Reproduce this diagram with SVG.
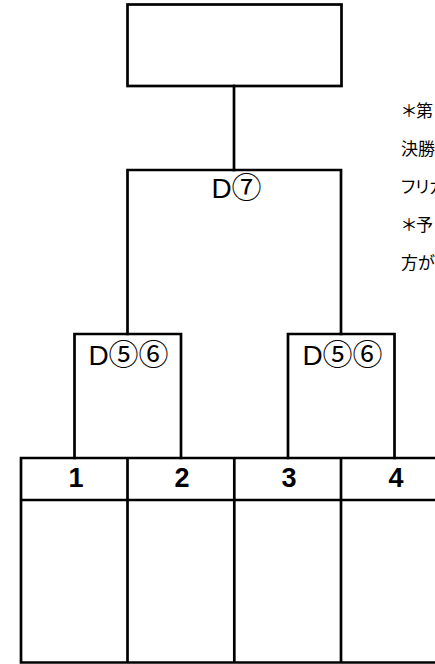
<svg xmlns="http://www.w3.org/2000/svg" width="435" height="664" viewBox="0 0 435 664">
<style>
.ln{fill:none;stroke:#000;stroke-width:2.7;stroke-linecap:square}
.lbl{font-family:"Liberation Sans","Noto Sans CJK JP",sans-serif;font-size:28px;fill:#000;text-anchor:middle}
.cd{font-size:30px}
.num{font-family:"Liberation Sans","Noto Sans CJK JP",sans-serif;font-size:27px;font-weight:bold;fill:#000;text-anchor:middle}
.note{font-family:"Noto Sans CJK JP",sans-serif;font-size:17px;fill:#000;font-feature-settings:"palt"}
</style>
<rect width="435" height="664" fill="#fff"/>
<g id="top-box">
<rect class="ln" x="127.5" y="4.5" width="214" height="81.5"/>
</g>
<g id="d7">
<path class="ln" d="M127.5,334 V170 H341 V334"/>
<text class="lbl" x="236.5" y="198">D<tspan class="cd">⑦</tspan></text>
</g>
<g id="d56-left">
<path class="ln" d="M74.5,458 V334 H181 V458"/>
<text class="lbl" x="128.5" y="365">D<tspan class="cd">⑤⑥</tspan></text>
</g>
<g id="d56-right">
<path class="ln" d="M288,458 V334 H394.5 V458"/>
<text class="lbl" x="342.5" y="365">D<tspan class="cd">⑤⑥</tspan></text>
</g>
<g id="table">
<path class="ln" d="M21,662.5 V458 H448 M21,500 H448 M21,662.5 H448 M127.5,458 V662.5 M234.3,458 V662.5 M341,458 V662.5"/>
<text class="num" x="76" y="487">1</text>
<text class="num" x="182" y="487">2</text>
<text class="num" x="289" y="487">3</text>
<text class="num" x="396" y="487">4</text>
</g>
<g id="connectors">
<path class="ln" d="M234,86 V170"/>
</g>
<g id="note">
<text class="note" x="402" y="117">＊第</text>
<text class="note" x="401" y="155">決勝</text>
<text class="note" x="401" y="193">フリガ</text>
<text class="note" x="402" y="231">＊予</text>
<text class="note" x="401" y="269">方が</text>
</g>
</svg>
